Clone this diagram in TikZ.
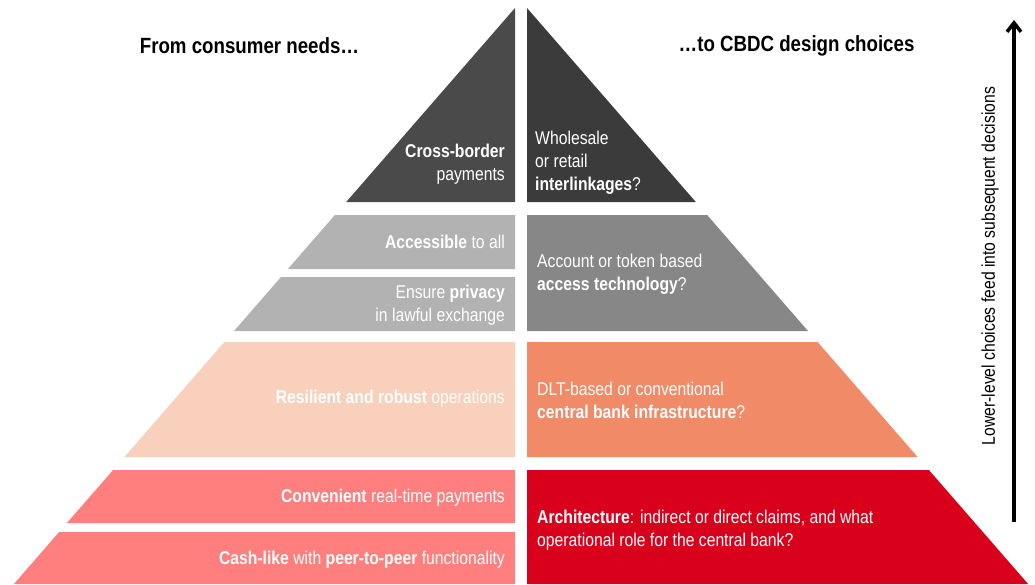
\documentclass[tikz,border=0pt]{standalone}
\usepackage{fontspec}
\setmainfont{Liberation Sans}[FakeStretch=0.85]
\usetikzlibrary{arrows.meta}
\definecolor{cdarkL}{HTML}{4A4A4A}
\definecolor{cdarkR}{HTML}{3B3B3B}
\definecolor{cgrayL}{HTML}{B2B2B2}
\definecolor{cgrayR}{HTML}{878787}
\definecolor{cpeach}{HTML}{F9D0BC}
\definecolor{csalmon}{HTML}{F08A67}
\definecolor{cpink}{HTML}{FF7F7F}
\definecolor{cred}{HTML}{D9001B}
\begin{document}
\begin{tikzpicture}[x=1pt,y=-1pt,
  lbl/.style={text=white,inner sep=0pt,font=\fontsize{18.5}{23}\selectfont},
  lefttxt/.style={lbl,anchor=east,align=right},
  righttxt/.style={lbl,anchor=west,align=left},
  title/.style={inner sep=0pt,font=\fontsize{22}{26}\selectfont\bfseries}]
\useasboundingbox (0,0) rectangle (1035,584);
% top triangles
\fill[cdarkL] (515,8) -- (515,202) -- (346.2,202) -- cycle;
\fill[cdarkR] (527,8) -- (527,202) -- (695.8,202) -- cycle;
% second level
\fill[cgrayL] (334.9,215) -- (515,215) -- (515,269) -- (287.9,269) -- cycle;
\fill[cgrayL] (281.0,277) -- (515,277) -- (515,331) -- (234.0,331) -- cycle;
\fill[cgrayR] (527,215) -- (707.1,215) -- (808.0,331) -- (527,331) -- cycle;
% third level
\fill[cpeach] (224.4,342) -- (515,342) -- (515,457) -- (124.4,457) -- cycle;
\fill[csalmon] (527,342) -- (817.6,342) -- (917.6,457) -- (527,457) -- cycle;
% bottom level
\fill[cpink] (113.1,470) -- (515,470) -- (515,523) -- (66.9,523) -- cycle;
\fill[cpink] (59.1,532) -- (515,532) -- (515,584) -- (13.9,584) -- cycle;
\fill[cred] (527,470) -- (928.9,470) -- (1028.1,584) -- (527,584) -- cycle;
% titles
\node[title] (tl) at (249.5,46) {From consumer needs…};
\node[title] (tr) at (796.5,46) {…to CBDC design choices};
% texts
\node[lefttxt] (t1) at (505,164) {\textbf{Cross-border}\\payments};
\node[righttxt] (t2) at (535,163) {Wholesale\\or retail\\\textbf{interlinkages}?};
\node[lefttxt] (t3) at (505,242) {\textbf{Accessible} to all};
\node[lefttxt] (t4) at (505,305) {Ensure \textbf{privacy}\\in lawful exchange};
\node[righttxt] (t5) at (537,274) {Account or token based\\\textbf{access technology}?};
\node[lefttxt] (t6) at (505,399) {\textbf{Resilient and robust} operations};
\node[righttxt] (t7) at (537,400) {DLT-based or conventional\\\textbf{central bank infrastructure}?};
\node[lefttxt] (t8) at (505,498) {\textbf{Convenient} real-time payments};
\node[lefttxt] (t9) at (505,560) {\textbf{Cash-like} with \textbf{peer-to-peer} functionality};
\node[righttxt] (t10) at (537,530) {\textbf{Architecture}: indirect or direct claims, and what\\operational role for the central bank?};
% arrow
\coordinate (abot) at (1014,522);
\coordinate (atop) at (1014,20);
\draw[line width=4pt,-{Straight Barb[length=9pt,width=14pt,line width=3.5pt]}] (abot) -- (atop);
\node[inner sep=0pt,rotate=90,font=\fontsize{18.5}{22}\selectfont] (alab) at (990,266) {Lower-level choices feed into subsequent decisions};
\end{tikzpicture}
\end{document}
